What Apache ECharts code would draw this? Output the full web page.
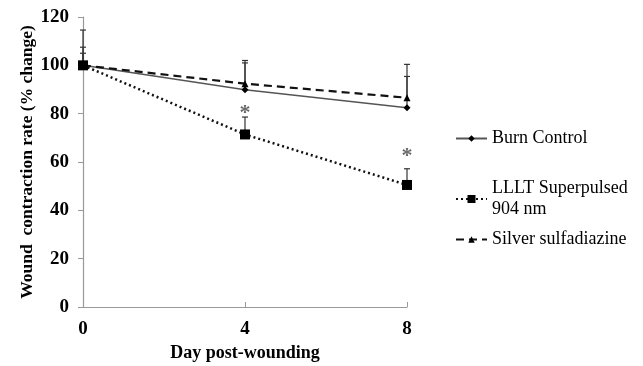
<!DOCTYPE html>
<html>
<head>
<meta charset="utf-8">
<script src="https://cdn.jsdelivr.net/npm/echarts@6/dist/echarts.min.js"></script>
<style>
  html, body { margin: 0; padding: 0; background: #fff; }
  #main { width: 643px; height: 366px; }
</style>
</head>
<body>
<div id="main"></div>
<script>
// data
var days = [0, 4, 8];
var burnControl = [100, 89.9, 82.4];
var lllt = [100, 71.4, 50.5];
var silver = [100, 92.4, 86.6];
// upper end of the error bars
var burnUpper = [107.5, 101, 95.4];
var llltUpper = [105, 78.6, 57.2];
var silverUpper = [114.6, 102, 100.4];
// significance marks (*)
var starDays = [4, 8];
var starY = [82.3, 64.5];
var yTicks = [0, 20, 40, 60, 80, 100, 120];

var fontFam = '"Liberation Serif", "Times New Roman", serif';

function pairs(ys) {
  return days.map(function (d, i) { return [d, ys[i]]; });
}
function errData(ys, up) {
  return days.map(function (d, i) { return [d, ys[i], up[i]]; });
}

// upward error bars, drawn through the axes
function errorBar(params, api) {
  var p0 = api.coord([api.value(0), api.value(1)]);
  var p1 = api.coord([api.value(0), api.value(2)]);
  var hw = 3;
  var st = { stroke: '#333', lineWidth: 1.2 };
  return {
    type: 'group',
    children: [
      { type: 'line', shape: { x1: p0[0], y1: p0[1], x2: p1[0], y2: p1[1] }, style: st },
      { type: 'line', shape: { x1: p1[0] - hw, y1: p1[1], x2: p1[0] + hw, y2: p1[1] }, style: st }
    ]
  };
}

var legendText = { fontFamily: fontFam, fontSize: 18, color: '#000', lineHeight: 21 };

var chart = echarts.init(document.getElementById('main'));
chart.setOption({
  animation: false,
  grid: { left: 83, right: 236, top: 17, bottom: 59, outerBoundsMode: 'none' },
  legend: [
    { data: ['Burn Control'], orient: 'vertical', left: 455, top: 128,
      itemWidth: 31, itemHeight: 8, itemGap: 0, textStyle: legendText, padding: 0 },
    { data: ['LLLT Superpulsed\n904 nm'], orient: 'vertical', left: 455, top: 178,
      itemWidth: 31, itemHeight: 10, itemGap: 0, textStyle: legendText, padding: 0 },
    { data: ['Silver sulfadiazine'], orient: 'vertical', left: 455, top: 229,
      itemWidth: 31, itemHeight: 8, itemGap: 0, textStyle: legendText, padding: 0 }
  ],
  xAxis: {
    type: 'value', min: 0, max: 8, interval: 4,
    name: 'Day post-wounding', nameLocation: 'middle', nameGap: 37, nameMoveOverlap: false,
    nameTextStyle: { fontFamily: fontFam, fontSize: 18, fontWeight: 'bold', color: '#000' },
    axisLine: { lineStyle: { color: '#999', width: 1.2 } },
    axisTick: { inside: true, length: 5, lineStyle: { color: '#999' } },
    axisLabel: { margin: 13, fontFamily: fontFam, fontSize: 19, fontWeight: 'bold', color: '#000' },
    splitLine: { show: false }
  },
  yAxis: {
    type: 'value', min: yTicks[0], max: yTicks[yTicks.length - 1], interval: 20,
    name: 'Wound  contraction rate (% change)', nameLocation: 'middle', nameGap: 47, nameMoveOverlap: false,
    nameTextStyle: { fontFamily: fontFam, fontSize: 17.5, fontWeight: 'bold', color: '#000' },
    axisLine: { show: true, lineStyle: { color: '#999', width: 1.2 } },
    axisTick: { show: true, length: 5, lineStyle: { color: '#999' } },
    axisLabel: { margin: 14, fontFamily: fontFam, fontSize: 19, fontWeight: 'bold', color: '#000' },
    splitLine: { show: false }
  },
  series: [
    { type: 'custom', renderItem: errorBar, data: errData(silver, silverUpper), z: 1, silent: true },
    { type: 'custom', renderItem: errorBar, data: errData(burnControl, burnUpper), z: 1, silent: true },
    { type: 'custom', renderItem: errorBar, data: errData(lllt, llltUpper), z: 1, silent: true },
    {
      name: 'Burn Control', type: 'line', data: pairs(burnControl), z: 3,
      symbol: 'diamond', symbolSize: 7,
      itemStyle: { color: '#000' },
      lineStyle: { color: '#555', width: 1.5, type: 'solid' }
    },
    {
      name: 'LLLT Superpulsed\n904 nm', type: 'line', data: pairs(lllt), z: 3,
      symbol: 'rect', symbolSize: 10,
      itemStyle: { color: '#000' },
      lineStyle: { color: '#111', width: 2.5, type: [2, 3] }
    },
    {
      name: 'Silver sulfadiazine', type: 'line', data: pairs(silver), z: 3,
      symbol: 'triangle', symbolSize: 7,
      itemStyle: { color: '#000' },
      lineStyle: { color: '#111', width: 2.2, type: [8, 5] }
    },
    {
      type: 'scatter', data: starDays.map(function (d, i) { return [d, starY[i]]; }),
      symbolSize: 0, silent: true,
      label: { show: true, formatter: '*', position: 'inside', offset: [0, 5],
        fontFamily: fontFam, fontSize: 22, fontWeight: 'bold', color: '#444' }
    }
  ]
});
</script>
</body>
</html>
